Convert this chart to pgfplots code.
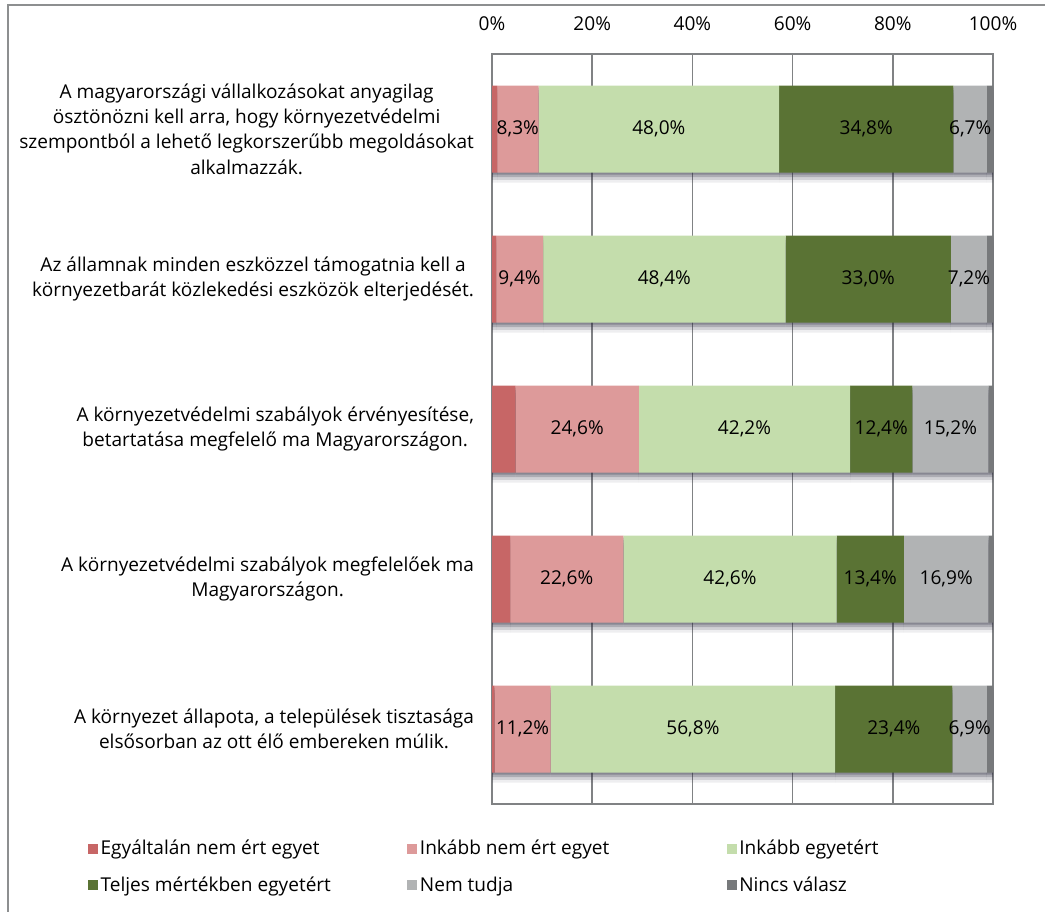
\documentclass[border=0pt]{standalone}
\usepackage{fontspec}
\setmainfont{Open Sans}
\usepackage{pgfplots}
\pgfplotsset{compat=1.18}

\definecolor{cA}{RGB}{199,102,102}
\definecolor{cB}{RGB}{221,154,154}
\definecolor{cC}{RGB}{196,221,172}
\definecolor{cD}{RGB}{90,115,52}
\definecolor{cE}{RGB}{177,179,180}
\definecolor{cF}{RGB}{119,121,123}
\definecolor{gridc}{RGB}{128,130,132}
\definecolor{shd}{RGB}{40,40,60}

\newcommand{\lblfont}{\fontsize{14.3}{19}\selectfont}

\pgfplotsset{
  shadowed/.style={
    preaction={fill=shd, opacity=0.08, transform canvas={yshift=-7.5pt}},
    preaction={fill=shd, opacity=0.15, transform canvas={yshift=-5.5pt}},
    preaction={fill=shd, opacity=0.22, transform canvas={yshift=-3.5pt}},
    preaction={fill=shd, opacity=0.28, transform canvas={yshift=-1.5pt}},
  },
  lbl/.style={
    nodes near coords={\pgfmathprintnumber[fixed,fixed zerofill,precision=1,use comma,assume math mode=true]{\pgfplotspointmeta}\%},
    point meta=explicit symbolic,
    every node near coord/.style={anchor=center, font=\lblfont, text=black, inner sep=0pt},
  },
}

\begin{document}
\begin{tikzpicture}
\path[use as bounding box] (0pt,0pt) rectangle (783.75pt,-683.25pt);
\draw[gridc!90, line width=0.9pt] (6pt,-700pt) -- (6pt,-3.75pt) -- (800pt,-3.75pt);
\begin{axis}[
  at={(369pt,-40.5pt)}, anchor=north west,
  scale only axis, width=375.75pt, height=562.5pt,
  xbar stacked, bar width=0.58,
  xmin=0, xmax=100, ymin=0.5, ymax=5.5, y dir=reverse,
  xtick={0,20,40,60,80,100},
  xticklabels={0\%,20\%,40\%,60\%,80\%,100\%},
  xticklabel pos=right,
  xticklabel style={font=\lblfont, yshift=14pt},
  ytick={1,2,3,4,5},
  yticklabels={
    {A magyarországi vállalkozásokat anyagilag\\ösztönözni kell arra, hogy környezetvédelmi\\szempontból a lehető legkorszerűbb megoldásokat\\alkalmazzák.},
    {Az államnak minden eszközzel támogatnia kell a\\környezetbarát közlekedési eszközök elterjedését.},
    {A környezetvédelmi szabályok érvényesítése,\\betartatása megfelelő ma Magyarországon.},
    {A környezetvédelmi szabályok megfelelőek ma\\Magyarországon.},
    {A környezet állapota, a települések tisztasága\\elsősorban az ott élő embereken múlik.}},
  yticklabel style={align=center, font=\lblfont, xshift=-10pt},
  major tick length=0pt,
  xmajorgrids, grid style={gridc, line width=1.1pt},
  axis line style={gridc, line width=1.1pt},
  every axis plot/.append style={draw=none},
  legend style={at={(-0.815,-0.041)}, anchor=north west, draw=none, fill=none,
    font=\lblfont, legend columns=3, row sep=11pt},
  legend cell align=left,
]
\addplot[fill=cA, shadowed, forget plot] coordinates {(1.0,1) (0.8,2) (4.7,3) (3.6,4) (0.5,5)};
\addplot[fill=cB, shadowed, lbl, forget plot] coordinates {(8.3,1) [8.3] (9.4,2) [9.4] (24.6,3) [24.6] (22.6,4) [22.6] (11.2,5) [11.2]};
\addplot[fill=cC, shadowed, lbl, forget plot] coordinates {(48.0,1) [48.0] (48.4,2) [48.4] (42.2,3) [42.2] (42.6,4) [42.6] (56.8,5) [56.8]};
\addplot[fill=cD, shadowed, lbl, forget plot] coordinates {(34.8,1) [34.8] (33.0,2) [33.0] (12.4,3) [12.4] (13.4,4) [13.4] (23.4,5) [23.4]};
\addplot[fill=cE, shadowed, lbl, forget plot] coordinates {(6.7,1) [6.7] (7.2,2) [7.2] (15.2,3) [15.2] (16.9,4) [16.9] (6.9,5) [6.9]};
\addplot[fill=cF, shadowed, forget plot] coordinates {(1.2,1) (1.2,2) (0.9,3) (0.9,4) (1.2,5)};
\pgfplotsset{legend image code/.code={\fill[#1] (0pt,-3.75pt) rectangle (7.5pt,3.75pt);}}
\addlegendimage{fill=cA, draw=none}
\addlegendentry{\makebox[228pt][l]{Egyáltalán nem ért egyet}}
\addlegendimage{fill=cB, draw=none}
\addlegendentry{\makebox[228pt][l]{Inkább nem ért egyet}}
\addlegendimage{fill=cC, draw=none}
\addlegendentry{\makebox[228pt][l]{Inkább egyetért}}
\addlegendimage{fill=cD, draw=none}
\addlegendentry{\makebox[228pt][l]{Teljes mértékben egyetért}}
\addlegendimage{fill=cE, draw=none}
\addlegendentry{\makebox[228pt][l]{Nem tudja}}
\addlegendimage{fill=cF, draw=none}
\addlegendentry{\makebox[228pt][l]{Nincs válasz}}
\end{axis}
\end{tikzpicture}
\end{document}
